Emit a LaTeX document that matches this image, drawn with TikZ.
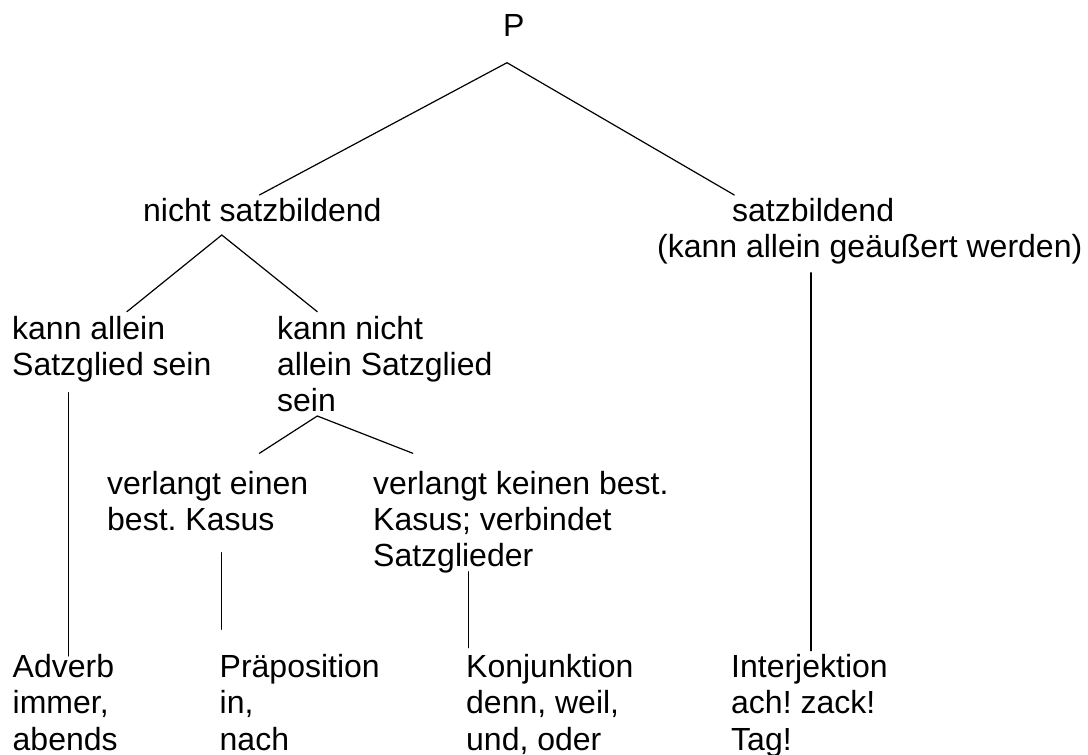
\documentclass[tikz,border=0pt]{standalone}
\usepackage{fontspec}
\setmainfont{Liberation Sans}
\newcommand{\tlines}[1]{\begin{tabular}[t]{@{}l@{}}#1\end{tabular}}
\begin{document}
\frenchspacing
\begin{tikzpicture}[x=1pt,y=-1pt,
  lbl/.style={inner sep=0pt, anchor=base west, font=\fontsize{32}{36.2}\selectfont},
  edge/.style={line width=1.2pt, line cap=round}]
\useasboundingbox (0,0) rectangle (1088,755);
% text nodes
\node[lbl, anchor=base] (P) at (513.7,36.7) {P};
\node[lbl] (ns) at (143,221.7) {nicht satzbildend};
\node[lbl] (sb) at (657,221.7) {\tlines{\hspace*{75pt}satzbildend\\(kann allein geäußert werden)}};
\node[lbl] (kas) at (12,339.3) {\tlines{kann allein\\Satzglied sein}};
\node[lbl] (kns) at (277,339.3) {\tlines{kann nicht\\allein Satzglied\\sein}};
\node[lbl] (vek) at (107,494.3) {\tlines{verlangt einen\\best. Kasus}};
\node[lbl] (vkk) at (373,494.3) {\tlines{verlangt keinen best.\\Kasus; verbindet\\Satzglieder}};
\node[lbl] (adv) at (12.5,677.7) {\tlines{Adverb\\immer,\\abends}};
\node[lbl] (pra) at (219.5,677.7) {\tlines{Präposition\\in,\\nach}};
\node[lbl] (kon) at (466,677.7) {\tlines{Konjunktion\\denn, weil,\\und, oder}};
\node[lbl] (int) at (731,677.7) {\tlines{Interjektion\\ach! zack!\\Tag!}};
% connector end points
\coordinate (P-a) at (507,62.7);
\coordinate (ns-t) at (259.4,195);
\coordinate (sb-t) at (734.3,195);
\coordinate (ns-a) at (221.8,235);
\coordinate (kas-t) at (126.9,311.7);
\coordinate (kns-t) at (317.3,311.7);
\coordinate (sb-b) at (811,272.7);
\coordinate (int-t) at (811,650.7);
\coordinate (kas-b) at (68.3,392.7);
\coordinate (adv-t) at (68.3,656);
\coordinate (kns-a) at (317.3,416);
\coordinate (vek-t) at (259.4,453.3);
\coordinate (vkk-t) at (412.8,453.3);
\coordinate (vek-b) at (221.8,552.7);
\coordinate (pra-t) at (221.8,629.3);
\coordinate (vkk-b) at (468.6,571.7);
\coordinate (kon-t) at (468.6,647.7);
% connectors
\draw[edge] (ns-t) -- (P-a) -- (sb-t);
\draw[edge] (kas-t) -- (ns-a) -- (kns-t);
\draw[edge] (sb-b) -- (int-t);
\draw[edge] (kas-b) -- (adv-t);
\draw[edge] (vek-t) -- (kns-a) -- (vkk-t);
\draw[edge] (vek-b) -- (pra-t);
\draw[edge] (vkk-b) -- (kon-t);
\end{tikzpicture}
\end{document}
